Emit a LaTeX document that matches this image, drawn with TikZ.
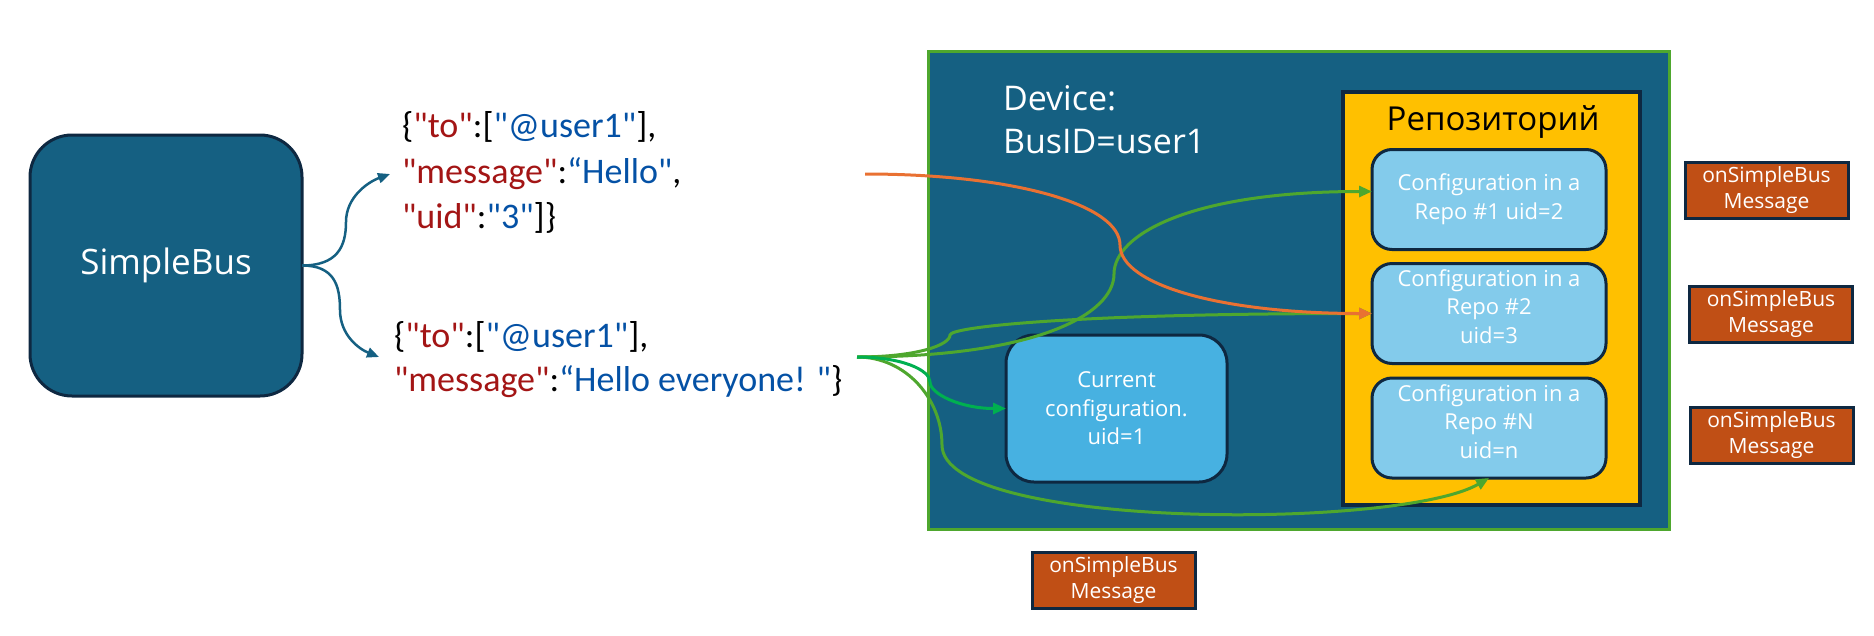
\documentclass[tikz,border=0pt]{standalone}
\usepackage{fontspec}
\setmainfont{Carlito}[Ligatures=TeXOff]
\newfontfamily\osans{Open Sans}
\usetikzlibrary{arrows.meta,calc}
\definecolor{cDark}{HTML}{0E2841}
\definecolor{cTeal}{HTML}{156082}
\definecolor{cGreen}{HTML}{4EA72E}
\definecolor{cBright}{HTML}{00B050}
\definecolor{cOrange}{HTML}{E97132}
\definecolor{cYellow}{HTML}{FFC000}
\definecolor{cLight}{HTML}{83CBEB}
\definecolor{cMid}{HTML}{47B1E1}
\definecolor{cBrown}{HTML}{C04F15}
\definecolor{jred}{HTML}{A31515}
\definecolor{jblue}{HTML}{0451A5}
\begin{document}
\begin{tikzpicture}[x=1pt,y=-1pt,
  every node/.style={inner sep=0pt, outer sep=0pt},
  sbbox/.style={draw=cDark, line width=3pt, fill=cTeal, rounded corners=42pt,
    minimum width=272pt, minimum height=261pt, text=white,
    font=\osans\fontsize{35}{42}\selectfont},
  json/.style={anchor=base west, font=\fontsize{36}{44}\selectfont, text=black},
  devbox/.style={draw=cGreen, line width=3pt, fill=cTeal,
    minimum width=741pt, minimum height=478pt},
  wlabel/.style={anchor=base west, text=white, font=\osans\fontsize{34}{43}\selectfont},
  repobox/.style={draw=cDark, line width=3.5pt, fill=cYellow,
    minimum width=297pt, minimum height=413pt},
  cfgbox/.style={draw=cDark, line width=3pt, fill=cLight, rounded corners=20pt,
    minimum width=234pt, minimum height=100pt},
  curbox/.style={draw=cDark, line width=3pt, fill=cMid, rounded corners=28pt,
    minimum width=221pt, minimum height=147pt},
  cfgtext/.style={text=white, align=center, font=\osans\fontsize{22}{28.5}\selectfont},
  msgbox/.style={draw=cDark, line width=3pt, fill=cBrown, text=white, align=center,
    minimum width=163pt, minimum height=56pt,
    font=\osans\fontsize{21}{26}\selectfont},
  arr/.style={line width=3pt, -{Triangle[length=13pt,width=11pt]}},
  barr/.style={line width=2.5pt, color=cTeal, -{Triangle[length=12pt,width=10pt]}}
]
\useasboundingbox (0,0) rectangle (1874,635);

% SimpleBus
\node[sbbox] (sb) at (166,265.5) {SimpleBus};

% JSON messages
\node[json] (j1a) at (402,137) {\{\textcolor{jred}{"to"}:[\textcolor{jblue}{"@user1"}],};
\node[json] (j1b) at (402,183) {\textcolor{jred}{"message"}:\textcolor{jblue}{“Hello"},};
\node[json] (j1c) at (402,228) {\textcolor{jred}{"uid"}:\textcolor{jblue}{"3"}]\}};
\node[json] (j2a) at (394,347) {\{\textcolor{jred}{"to"}:[\textcolor{jblue}{"@user1"}],};
\node[json] (j2b) at (394,391) {\textcolor{jred}{"message"}:\textcolor{jblue}{“Hello everyone! "}\}};

% Device
\node[devbox] (device) at (1298.5,290) {};
\node[wlabel] (dev1) at (1003,110) {Device:};
\node[wlabel] (dev2) at (1003,153) {BusID=user1};

% Repository
\node[repobox] (repo) at (1491.5,298.5) {};
\node[anchor=base, text=black, font=\osans\fontsize{33}{40}\selectfont] (repotitle) at (1493,130) {Репозиторий};
\node[cfgbox] (repo1) at (1489,199.5) {};
\node[cfgtext] (repo1t) at (1489,199) {Configuration in a\\Repo \#1 uid=2};
\node[cfgbox] (repo2) at (1489,313.5) {};
\node[cfgtext] (repo2t) at (1489,306.5) {Configuration in a\\Repo \#2\\uid=3};
\node[cfgbox] (repo3) at (1489,428) {};
\node[cfgtext] (repo3t) at (1489,421.5) {Configuration in a\\Repo \#N\\uid=n};

% Current configuration
\node[curbox] (cur) at (1116.5,408.5) {};
\node[cfgtext] (curt) at (1116.5,408.5) {Current\\configuration.\\uid=1};

% onSimpleBus Message boxes
\node[msgbox] (msg1) at (1766.5,190) {onSimpleBus\\Message};
\node[msgbox] (msg2) at (1771,314) {onSimpleBus\\Message};
\node[msgbox] (msg3) at (1771.5,435.5) {onSimpleBus\\Message};
\node[msgbox] (msg4) at (1113.5,580) {onSimpleBus\\Message};

% connector points
\coordinate (b1mid) at (346,222);
\coordinate (b1end) at (390,174);
\coordinate (b2mid) at (340,310);
\coordinate (b2end) at (379,357);
\coordinate (ostart) at (865,174);
\coordinate (omid) at (1120,245);
\coordinate (gstart) at (857,357);
\coordinate (g1mid) at (1114,274);
\coordinate (g2mid) at (950,335);
\coordinate (g3mid) at (930,382);
\coordinate (g4mid) at (942,445);
\coordinate (r1in) at ($(repo1.west)+(0,-8)$);

% blue arrows
\draw[barr] (sb.east) .. controls +(35,0) and +(0,25) .. (b1mid)
  .. controls +(0,-25) and +(-22,8) .. (b1end);
\draw[barr] (sb.east) .. controls +(32,0) and +(0,-25) .. (b2mid)
  .. controls +(0,25) and +(-20,-8) .. (b2end);

% green arrows
\draw[arr, color=cGreen] (gstart) .. controls +(60,0) and +(0,10) .. (g2mid)
  .. controls +(0,-8) and +(-300,0) .. (repo2.west);
\draw[arr, color=cGreen] (gstart) .. controls +(180,0) and +(0,40) .. (g1mid)
  .. controls +(0,-40) and +(-180,0) .. (r1in);
\draw[arr, color=cGreen] (gstart) .. controls +(50,0) and +(0,-45) .. (g4mid)
  .. controls +(0,85) and +(-90,52) .. (repo3.south);
\draw[arr, color=cBright] (gstart) .. controls +(45,0) and +(0,-12) .. (g3mid)
  .. controls +(0,12) and +(-45,0) .. (cur.west);

% orange arrow
\draw[arr, color=cOrange] (ostart) .. controls +(150,0) and +(0,-40) .. (omid)
  .. controls +(0,40) and +(-150,0) .. (repo2.west);
\end{tikzpicture}
\end{document}
